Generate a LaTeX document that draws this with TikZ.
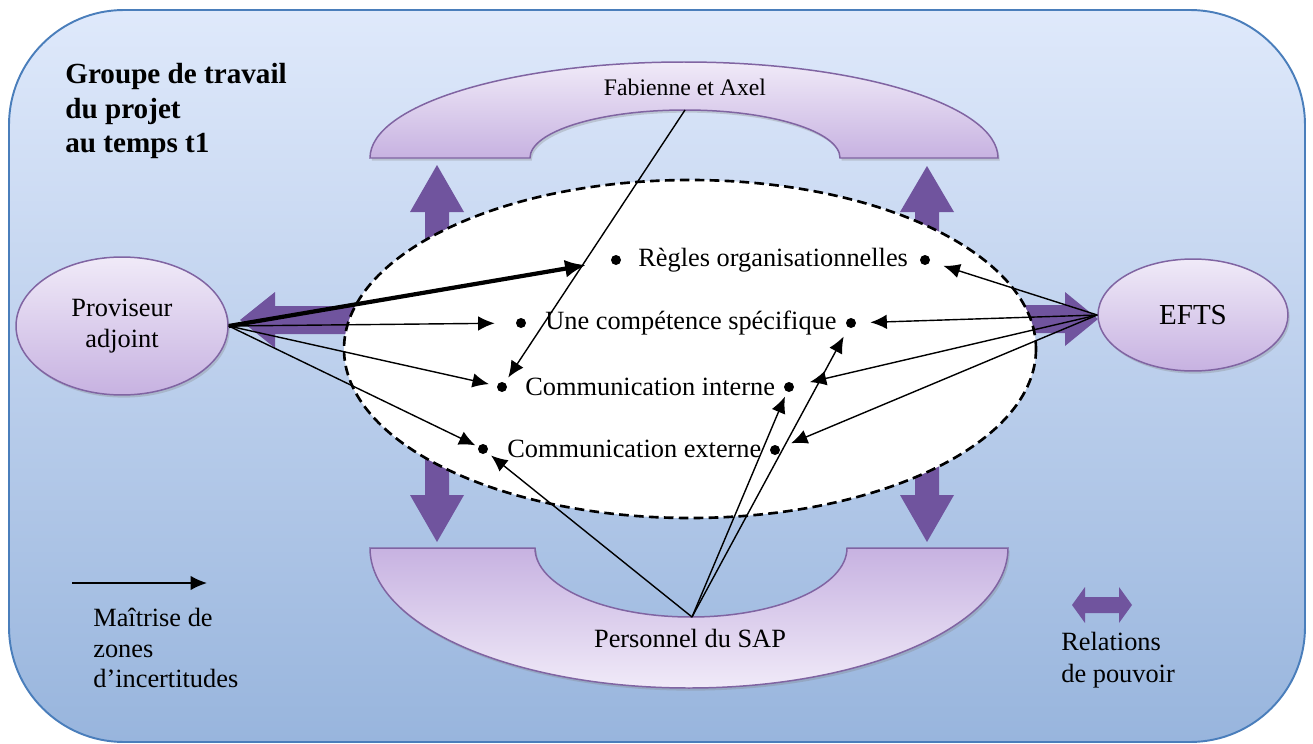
\documentclass[tikz,border=0pt]{standalone}
\usepackage{fontspec}
\setmainfont{Liberation Serif}
\usetikzlibrary{arrows.meta,shapes.geometric,shadows}

\definecolor{panelline}{RGB}{74,126,187}
\definecolor{paneltop}{RGB}{223,233,251}
\definecolor{panelmid}{RGB}{197,216,248}
\definecolor{panelbot}{RGB}{152,181,221}
\definecolor{lilacline}{RGB}{128,100,162}
\definecolor{lilaclight}{RGB}{240,234,248}
\definecolor{lilacdark}{RGB}{199,178,225}
\definecolor{powerfill}{RGB}{112,84,158}

\tikzset{
  panel/.style={draw=panelline,line width=1.1pt,rounded corners=2.3cm,
    top color=paneltop,middle color=panelmid,bottom color=panelbot},
  lilac/.style={draw=lilacline,line width=.85pt,
    drop shadow={shadow xshift=1pt,shadow yshift=-1.5pt,opacity=.3}},
  actor/.style={ellipse,lilac,top color=lilaclight,bottom color=lilacdark,
    inner sep=0pt,align=center},
  power/.style={fill=powerfill},
  bullet/.style={circle,fill,inner sep=0pt,minimum size=2mm},
  item/.style={anchor=west,inner sep=0pt},
  zone/.style={-{Latex[length=3.3mm,width=2.9mm]},line width=.8pt},
  gap/.style={shorten >=#1*.2mm},
}

\begin{document}
\begin{tikzpicture}[x=.02cm,y=-.02cm,font=\fontsize{15}{18}\selectfont]
\useasboundingbox (0,0) rectangle (1313,744);
\draw[panel] (9,10) rectangle (1305,742);

% relations de pouvoir (tails under the ellipse)
\fill[power] (380,306) -- (275,306) -- (275,292) -- (240,320) -- (275,348) -- (275,334) -- (380,334) -- cycle;
\fill[power] (990,305) -- (1065,305) -- (1065,292) -- (1098,319) -- (1065,346) -- (1065,333) -- (990,333) -- cycle;
\fill[power] (425,270) -- (425,212) -- (410,212) -- (437,165) -- (464,212) -- (449,212) -- (449,270) -- cycle;
\fill[power] (915,270) -- (915,212) -- (900,212) -- (927,166) -- (954,212) -- (939,212) -- (939,270) -- cycle;
\fill[power] (425,430) -- (425,495) -- (410,495) -- (437,542) -- (464,495) -- (449,495) -- (449,430) -- cycle;
\fill[power] (915,430) -- (915,495) -- (900,495) -- (927,542) -- (954,495) -- (939,495) -- (939,430) -- cycle;

% zones d'incertitude
\draw[fill=white,line width=1.5pt,dash pattern=on 5.5pt off 3pt] (690,349) ellipse[x radius=346,y radius=169];

% acteurs
\draw[lilac,top color=lilaclight,bottom color=lilacdark] (370,158) arc[start angle=180,end angle=360,x radius=314,y radius=96]
  -- (840,158) arc[start angle=360,end angle=180,x radius=155,y radius=48] -- cycle;
\draw[lilac,top color=lilacdark,bottom color=lilaclight] (370,548) arc[start angle=180,end angle=0,x radius=319,y radius=140]
  -- (847,548) arc[start angle=0,end angle=180,x radius=156,y radius=69] -- cycle;
\node[font=\fontsize{13.5}{16}\selectfont] (fabtext) at (685,87) {Fabienne et Axel};
\node (saptext) at (690,638) {Personnel du SAP};
\coordinate (fab) at (685,110);
\coordinate (sap) at (692,617);
\node[actor,minimum width=4.24cm,minimum height=2.76cm] (prov) at (122,326) {Proviseur\\adjoint};
\node[actor,minimum width=3.8cm,minimum height=2.24cm,font=\fontsize{16.5}{20}\selectfont] (efts) at (1193,315) {EFTS};

% enjeux
\node[bullet] (r1) at (616,260) {};
\node[item] (rtext) at (638,260) {Règles organisationnelles};
\node[bullet] (r2) at (925,260) {};
\node[bullet] (c1) at (521,323) {};
\node[item] (ctext) at (545,323) {Une compétence spécifique};
\node[bullet] (c2) at (851,323) {};
\node[bullet] (i1) at (502,387) {};
\node[item] (itext) at (525,387) {Communication interne};
\node[bullet] (i2) at (789,387) {};
\node[bullet] (e1) at (483,449) {};
\node[item] (etext) at (507,449) {Communication externe};
\node[bullet] (e2) at (775,450) {};

% maitrise
\draw[zone,line width=2.4pt,-{Latex[length=4.2mm,width=3.6mm]},gap=25] (prov.east) -- (r1);
\draw[zone,gap=21] (prov.east) -- (c1);
\draw[zone,gap=8] (prov.east) -- (i1);
\draw[zone,gap=3] (prov.east) -- (e1);
\draw[zone,gap=6] (fab) -- (i1);
\draw[zone,gap=14] (efts.west) -- (r2);
\draw[zone,gap=14] (efts.west) -- (c2);
\draw[zone,gap=16] (efts.west) -- (i2);
\draw[zone,gap=12] (efts.west) -- (e2);
\draw[zone,gap=5] (sap) -- (e1);
\draw[zone,gap=5] (sap) -- (i2);
\draw[zone,gap=10] (sap) -- (c2);

% titre et legende
\node[anchor=north west,inner sep=0pt,align=left,font=\fontsize{16.6}{19.6}\selectfont\bfseries] (title) at (65,63) {Groupe de travail\\du projet\\au temps t1};
\coordinate (keya) at (72,583);
\coordinate (keyb) at (207,583);
\draw[zone] (keya) -- (keyb);
\node[anchor=north west,inner sep=0pt,align=left,font=\fontsize{15}{17.3}\selectfont] (keytext) at (93,608) {Maîtrise de\\zones\\d’incertitudes};
\fill[power] (1072,605) -- (1085,587) -- (1085,597) -- (1119,597) -- (1119,587) -- (1132,605) -- (1119,623) -- (1119,613) -- (1085,613) -- (1085,623) -- cycle;
\node[anchor=north west,inner sep=0pt,align=left] (powertext) at (1061,632) {Relations\\de pouvoir};
\end{tikzpicture}
\end{document}
